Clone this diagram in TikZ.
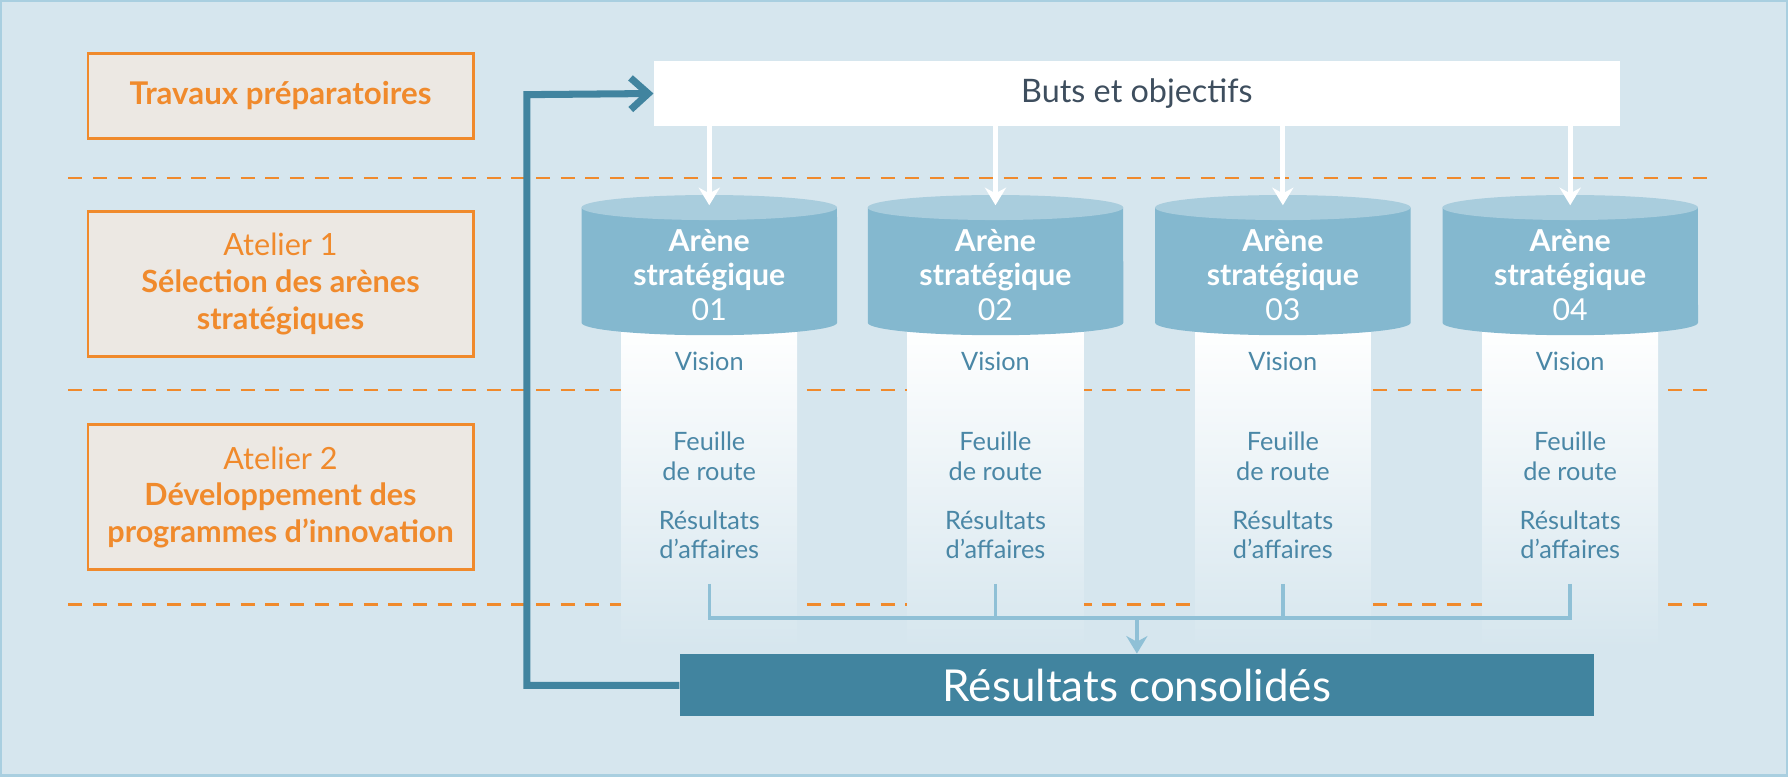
\documentclass[tikz,border=0pt]{standalone}
\usepackage{fontspec}
\setmainfont{Lato}
\usetikzlibrary{shapes.geometric,arrows.meta,calc,positioning}
\definecolor{bgblue}{HTML}{D6E6EE}
\definecolor{frameblue}{HTML}{A9CFE0}
\definecolor{orng}{HTML}{F08A2C}
\definecolor{beige}{HTML}{ECE8E3}
\definecolor{cylblue}{HTML}{84B8CF}
\definecolor{cyltop}{HTML}{A9CDDD}
\definecolor{txtblue}{HTML}{4A87A6}
\definecolor{darkblue}{HTML}{41849F}
\definecolor{linkblue}{HTML}{8FC0D6}
\definecolor{butstxt}{HTML}{3E4E5E}

\tikzset{
	phase/.style={draw=orng, line width=0.8pt, fill=beige, minimum width=3.85cm, align=center, text=orng, font=\fontsize{8.7}{10.4}\selectfont},
	arenatext/.style={text=white, align=center, font=\fontsize{8.6}{9.8}\selectfont},
	stage/.style={text=txtblue, align=center, font=\fontsize{7.2}{8.4}\selectfont},
	down/.style={-{Stealth[length=5pt,width=6pt]}, white, line width=1.4pt},
	link/.style={linkblue, line width=1pt}
}

\begin{document}
\begin{tikzpicture}[x=0.0114cm, y=-0.0114cm]
	\useasboundingbox (0,0) rectangle (1568,681);
	\fill[bgblue] (0,0) rectangle (1568,681);
	\draw[frameblue, line width=1pt] (0.5,0.5) rectangle (1567.5,680.5);
	
	% phases
	\node[phase, minimum height=0.85cm, font=\bfseries\fontsize{8.9}{10.4}\selectfont] (prep) at (246,84) {Travaux préparatoires};
	\node[phase, minimum height=1.45cm] (atelier1) at (246,249) {Atelier 1\\\textbf{Sélection des arènes}\\\textbf{stratégiques}};
	\node[phase, minimum height=1.45cm] (atelier2) at (246,436) {Atelier 2\\\textbf{Développement des}\\\textbf{programmes d’innovation}};
	\foreach \yy in {156,342,530}
		\draw[orng, dashed, line width=0.7pt, dash pattern=on 4pt off 3pt] (60,\yy) -- (1505,\yy);
	
	\node[fill=white, minimum width=9.65cm, minimum height=0.64cm, text=butstxt, font=\fontsize{9.2}{11}\selectfont] (buts) at (997,82) {Buts et objectifs};
	\node[fill=darkblue, minimum width=9.13cm, minimum height=0.62cm, text=white, font=\fontsize{12.5}{14}\selectfont] (total) at (997,601) {Résultats consolidés};
	\coordinate (merge) at (997,542);
	
	\foreach \x/\n in {622/01,873/02,1125/03,1377/04}{
		\shade[top color=white, bottom color=bgblue] (\x-77,285) rectangle (\x+77,568);
		% arena cylinder
		\fill[cylblue] (\x-112,182) -- (\x-112,283) arc[start angle=180, end angle=360, x radius=1.277cm, y radius=0.125cm] -- (\x+112,182) -- cycle;
		\fill[cyltop] (\x,182) ellipse[x radius=1.277cm, y radius=0.125cm];
		\coordinate (top\n) at (\x,180);
		\node[arenatext] (arena\n) at (\x,241) {\textbf{Arène}\\\textbf{stratégique}\\\n};
		\node[stage] (vision\n) at (\x,317) {Vision};
		\node[stage] (route\n) at (\x,400) {Feuille\\de route};
		\node[stage] (result\n) at (\x,469) {Résultats\\d’affaires};
		\coordinate (foot\n) at (\x,512);
		\coordinate (tap\n) at (\x,542);
		\draw[down] (buts.south -| top\n) -- (top\n);
	}
	\foreach \n in {01,02,03,04}
		\draw[link] (foot\n) -- (tap\n) -- (merge);
	\draw[link, -{Stealth[length=5pt,width=6pt]}] (merge) -- (total.north);
	
	\draw[darkblue, line width=2pt, -{Straight Barb[length=5pt,width=9pt]}] (total.west) -| (462,83) -- (buts.west);
\end{tikzpicture}
\end{document}
